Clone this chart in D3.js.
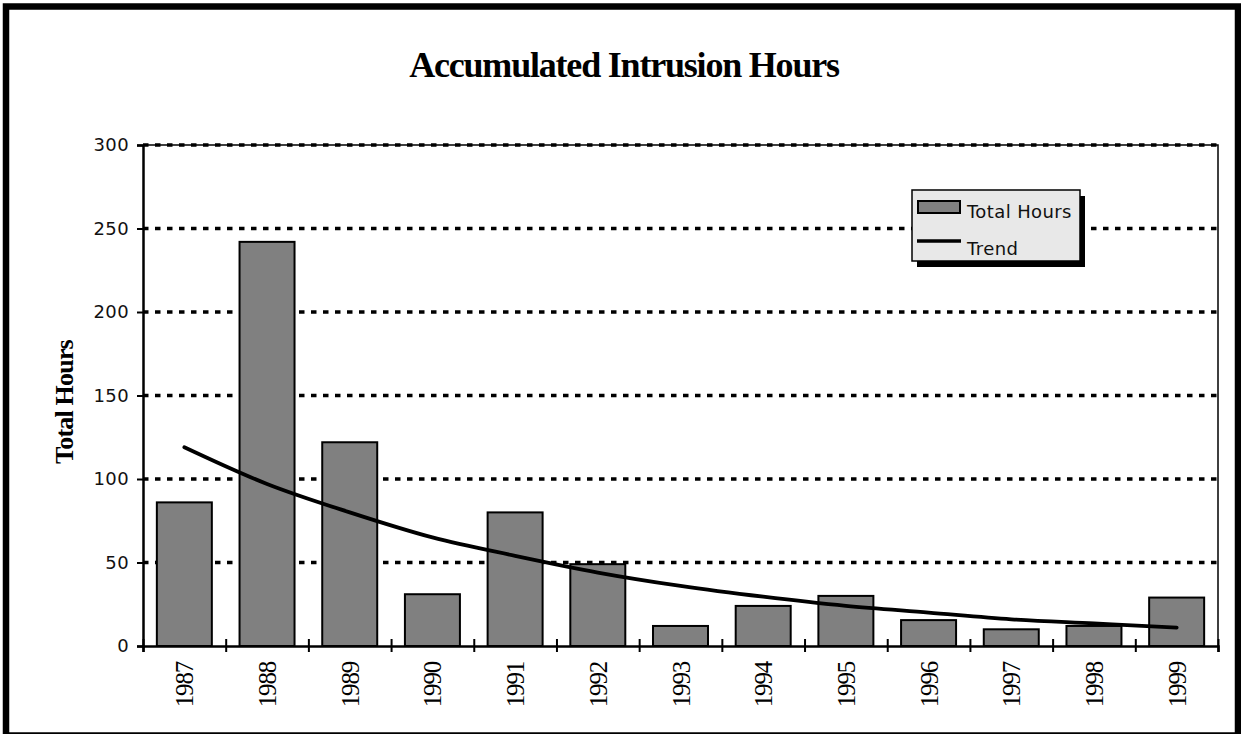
<!DOCTYPE html>
<html>
<head>
<meta charset="utf-8">
<script src="https://cdn.jsdelivr.net/npm/d3@7"></script>
<style>
  body { margin: 0; background: #fff; }
  svg { display: block; }
  .tick-label { font-family: "DejaVu Sans", sans-serif; font-size: 18px; letter-spacing: 0.4px; fill: #111; }
  .year { font-family: "Liberation Serif", "Times New Roman", serif; font-size: 25px; letter-spacing: -1.2px; fill: #000; }
</style>
</head>
<body>
<svg id="chart" width="1241" height="734"></svg>
<script>
var years = ["1987", "1988", "1989", "1990", "1991", "1992", "1993",
             "1994", "1995", "1996", "1997", "1998", "1999"];
var totalHours = [86, 242, 122, 31, 80, 49, 12, 24, 30, 15.5, 10, 12, 29];
var trend = [119, 97, 80, 65, 54, 44, 36, 29.5, 24, 20, 16, 13.5, 11];
var yTicks = [0, 50, 100, 150, 200, 250, 300];

var svg = d3.select("#chart");

var plotLeft = 143, plotRight = 1218, plotTop = 145, plotBottom = 646;

var x = d3.scaleBand()
  .domain(years)
  .range([plotLeft, plotRight])
  .paddingInner(0.335)
  .paddingOuter(0.1675);

var xEdge = d3.scaleLinear().domain([0, years.length]).range([plotLeft, plotRight]);

var y = d3.scaleLinear().domain([0, 300]).range([plotBottom, plotTop]);

// outer frame
svg.append("rect")
  .attr("x", 6).attr("y", 6.5)
  .attr("width", 1232).attr("height", 729)
  .attr("fill", "none")
  .attr("stroke", "#000")
  .attr("stroke-width", 6.5);

// title
svg.append("text")
  .attr("x", 624).attr("y", 77)
  .attr("text-anchor", "middle")
  .style("font-family", "'Liberation Serif', 'Times New Roman', serif")
  .style("font-weight", "bold")
  .style("font-size", "36px")
  .style("letter-spacing", "-1.2px")
  .text("Accumulated Intrusion Hours");

// plot border (top + right)
svg.append("path")
  .attr("d", "M" + plotLeft + "," + plotTop + "H" + plotRight + "V" + plotBottom)
  .attr("fill", "none")
  .attr("stroke", "#000")
  .attr("stroke-width", 1.5);

// dashed gridlines
svg.append("g")
  .selectAll("line")
  .data(yTicks.filter(function(d) { return d > 0; }))
  .enter()
  .append("line")
    .attr("x1", plotLeft).attr("x2", plotRight)
    .attr("y1", function(d) { return y(d); })
    .attr("y2", function(d) { return y(d); })
    .attr("stroke", "#000")
    .attr("stroke-width", 3.5)
    .attr("stroke-dasharray", "5.5,6.5");

// bars
svg.append("g")
  .selectAll("rect")
  .data(totalHours)
  .enter()
  .append("rect")
    .attr("x", function(d, i) { return x(years[i]); })
    .attr("y", function(d) { return y(d); })
    .attr("width", x.bandwidth())
    .attr("height", function(d) { return y(0) - y(d); })
    .attr("fill", "#808080")
    .attr("stroke", "#000")
    .attr("stroke-width", 2);

// y axis
var yAxis = svg.append("g")
  .attr("transform", "translate(" + plotLeft + ",0)")
  .call(d3.axisLeft(y).tickValues(yTicks).tickSize(6).tickPadding(8).tickFormat(d3.format("d")));
yAxis.attr("font-family", null).attr("font-size", null);
yAxis.select(".domain").attr("stroke", "#000").attr("stroke-width", 2.5);
yAxis.selectAll(".tick line").attr("stroke", "#000").attr("stroke-width", 2);
yAxis.selectAll(".tick text").attr("class", "tick-label").attr("fill", null);

// x axis with ticks between categories
var xAxis = svg.append("g")
  .attr("transform", "translate(0," + plotBottom + ")")
  .call(d3.axisBottom(xEdge).tickValues(d3.range(0, years.length + 1)).tickSize(6).tickFormat(""));
xAxis.select(".domain").attr("stroke", "#000").attr("stroke-width", 2.5);
xAxis.selectAll(".tick line").attr("y1", -7).attr("y2", 6).attr("stroke", "#000").attr("stroke-width", 2);

// year labels
svg.append("g")
  .selectAll("text")
  .data(years)
  .enter()
  .append("text")
    .attr("class", "year")
    .attr("text-anchor", "end")
    .attr("transform", function(d) {
      return "translate(" + (x(d) + x.bandwidth() / 2 + 9) + "," + 662 + ") rotate(-90)";
    })
    .text(function(d) { return d; });

// trend line
var line = d3.line()
  .x(function(d, i) { return x(years[i]) + x.bandwidth() / 2; })
  .y(function(d) { return y(d); })
  .curve(d3.curveMonotoneX);

svg.append("path")
  .datum(trend)
  .attr("d", line)
  .attr("fill", "none")
  .attr("stroke", "#000")
  .attr("stroke-width", 3.8)
  .attr("stroke-linecap", "round");

// y axis title
svg.append("text")
  .attr("transform", "translate(73,402) rotate(-90)")
  .attr("text-anchor", "middle")
  .style("font-family", "'Liberation Serif', 'Times New Roman', serif")
  .style("font-weight", "bold")
  .style("font-size", "26px")
  .style("letter-spacing", "-0.8px")
  .text("Total Hours");

// legend
var legend = svg.append("g").attr("transform", "translate(912,190)");
legend.append("rect")
  .attr("x", 5).attr("y", 6)
  .attr("width", 168).attr("height", 71)
  .attr("fill", "#000");
legend.append("rect")
  .attr("x", 0).attr("y", 0)
  .attr("width", 168).attr("height", 71)
  .attr("fill", "#e8e8e8")
  .attr("stroke", "#000")
  .attr("stroke-width", 1.5);
legend.append("rect")
  .attr("x", 6).attr("y", 11)
  .attr("width", 42).attr("height", 12)
  .attr("fill", "#808080")
  .attr("stroke", "#000")
  .attr("stroke-width", 2);
legend.append("line")
  .attr("x1", 5).attr("x2", 49)
  .attr("y1", 51).attr("y2", 51)
  .attr("stroke", "#000")
  .attr("stroke-width", 3.5);
legend.append("text")
  .attr("class", "tick-label")
  .attr("x", 55).attr("y", 28)
  .text("Total Hours");
legend.append("text")
  .attr("class", "tick-label")
  .attr("x", 55).attr("y", 65)
  .text("Trend");
</script>
</body>
</html>
